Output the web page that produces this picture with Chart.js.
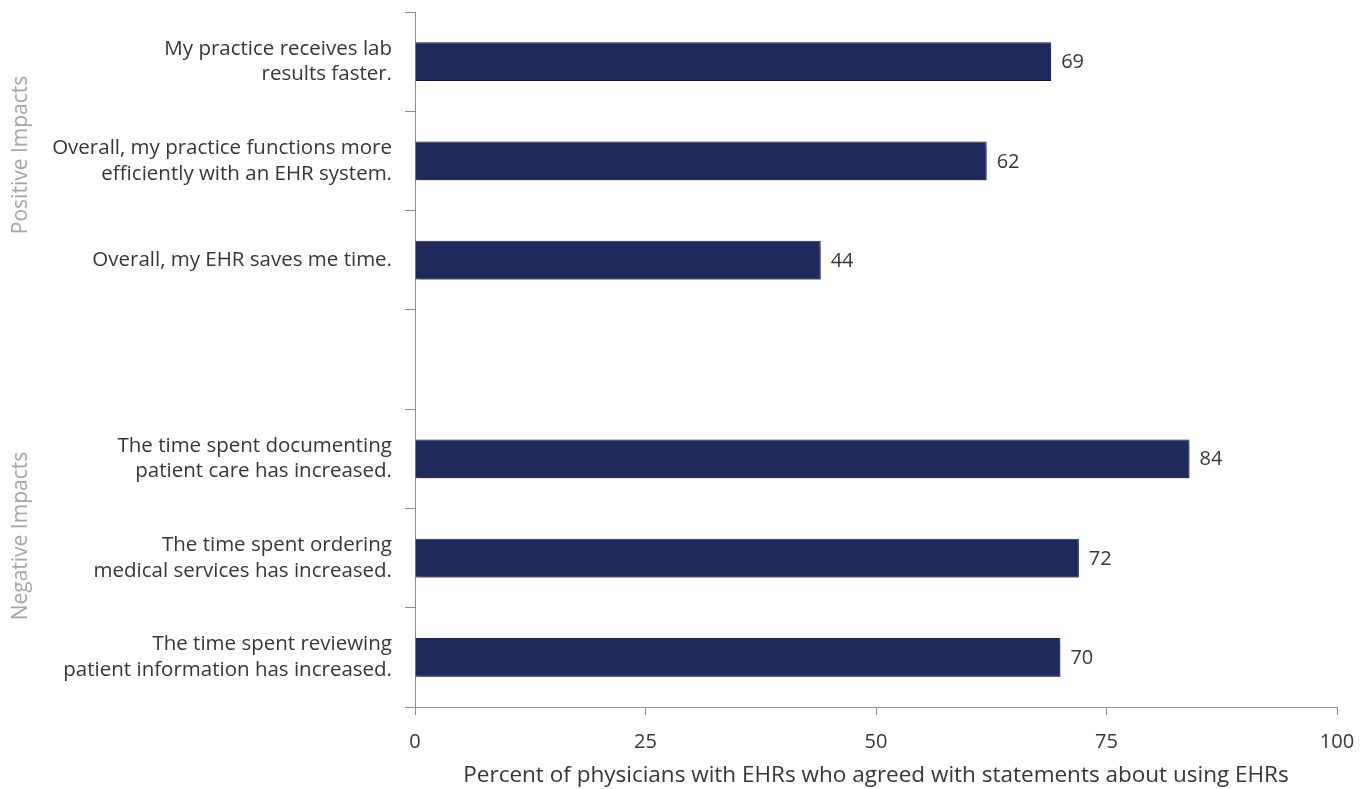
<!DOCTYPE html>
<html>
<head>
<meta charset="utf-8">
<script src="https://cdn.jsdelivr.net/npm/chart.js@4/dist/chart.umd.min.js"></script>
<style>
  html, body { margin: 0; padding: 0; background: #ffffff; }
  #wrap { width: 1371px; height: 789px; position: relative; }
</style>
</head>
<body>
<div id="wrap"><canvas id="chart" width="1371" height="789"></canvas></div>
<script>
// Survey statements (one blank slot separates the two groups)
const statements = [
  ['My practice receives lab', 'results faster.'],
  ['Overall, my practice functions more', 'efficiently with an EHR system.'],
  'Overall, my EHR saves me time.',
  '',
  ['The time spent documenting', 'patient care has increased.'],
  ['The time spent ordering', 'medical services has increased.'],
  ['The time spent reviewing', 'patient information has increased.']
];
// Percent of physicians who agreed
const agreePercent = [69, 62, 44, null, 84, 72, 70];
const xTicks = [0, 25, 50, 75, 100];
const groupNames = ['Positive Impacts', 'Negative Impacts'];

const FONT = '"Open Sans", sans-serif';
const TEXT = '#363636';
const AXIS_GREY = '#8c8c8c';

// Soft drop shadow behind the bars
const barShadow = {
  id: 'barShadow',
  beforeDatasetDraw(chart) {
    const ctx = chart.ctx;
    ctx.save();
    ctx.shadowColor = 'rgba(0,0,0,0.38)';
    ctx.shadowBlur = 4;
    ctx.shadowOffsetX = 2;
    ctx.shadowOffsetY = 3;
  },
  afterDatasetDraw(chart) {
    chart.ctx.restore();
  }
};

// Value printed to the right of each bar
const valueLabels = {
  id: 'valueLabels',
  afterDatasetsDraw(chart) {
    const ctx = chart.ctx;
    const meta = chart.getDatasetMeta(0);
    ctx.save();
    ctx.font = '20px ' + FONT;
    ctx.fillStyle = TEXT;
    ctx.textAlign = 'left';
    ctx.textBaseline = 'middle';
    meta.data.forEach((bar, i) => {
      const v = agreePercent[i];
      if (v === null) return;
      ctx.fillText(String(v), bar.x + 10, bar.y + 1);
    });
    ctx.restore();
  }
};

// Rotated group captions at the far left
const groupCaptions = {
  id: 'groupCaptions',
  afterDraw(chart) {
    const ctx = chart.ctx;
    const y = chart.scales.y;
    const pos = [
      (y.getPixelForValue(0) + y.getPixelForValue(2)) / 2 - 6,
      (y.getPixelForValue(4) + y.getPixelForValue(6)) / 2 - 22
    ];
    ctx.save();
    ctx.font = '21px ' + FONT;
    ctx.fillStyle = '#a6a6a6';
    ctx.textAlign = 'center';
    ctx.textBaseline = 'middle';
    groupNames.forEach((name, i) => {
      ctx.save();
      ctx.translate(21, pos[i]);
      ctx.rotate(-Math.PI / 2);
      ctx.fillText(name, 0, 0);
      ctx.restore();
    });
    ctx.restore();
  }
};

new Chart(document.getElementById('chart'), {
  type: 'bar',
  data: {
    labels: statements,
    datasets: [{
      data: agreePercent,
      backgroundColor: '#1f2a5c',
      borderColor: '#19214a',
      borderWidth: 1,
      categoryPercentage: 1,
      barPercentage: 0.39
    }]
  },
  options: {
    indexAxis: 'y',
    responsive: false,
    animation: false,
    layout: { padding: { top: 12, right: 34, bottom: 0, left: 0 } },
    plugins: {
      legend: { display: false },
      tooltip: { enabled: false }
    },
    scales: {
      x: {
        min: 0,
        max: 100,
        afterBuildTicks(scale) { scale.ticks = xTicks.map(v => ({ value: v })); },
        afterFit(scale) { scale.height = 82; scale.paddingLeft = 0; scale.paddingRight = 0; },
        border: { display: true, color: AXIS_GREY, width: 1 },
        grid: { drawOnChartArea: false, drawTicks: true, tickLength: 8, color: AXIS_GREY },
        ticks: { color: TEXT, font: { family: FONT, size: 20 }, padding: 15, maxRotation: 0 },
        title: {
          display: true,
          text: 'Percent of physicians with EHRs who agreed with statements about using EHRs',
          color: TEXT,
          font: { family: FONT, size: 22.5 },
          padding: { top: 4, bottom: 0 }
        }
      },
      y: {
        afterFit(scale) { scale.width = 415; scale.paddingTop = 0; scale.paddingBottom = 0; },
        border: { display: true, color: AXIS_GREY, width: 1 },
        grid: { drawOnChartArea: false, drawTicks: true, tickLength: 10, color: AXIS_GREY, offset: true },
        ticks: { color: TEXT, font: { family: FONT, size: 20.5, lineHeight: 1.25 }, padding: 13, autoSkip: false }
      }
    }
  },
  plugins: [barShadow, valueLabels, groupCaptions]
});
</script>
</body>
</html>
